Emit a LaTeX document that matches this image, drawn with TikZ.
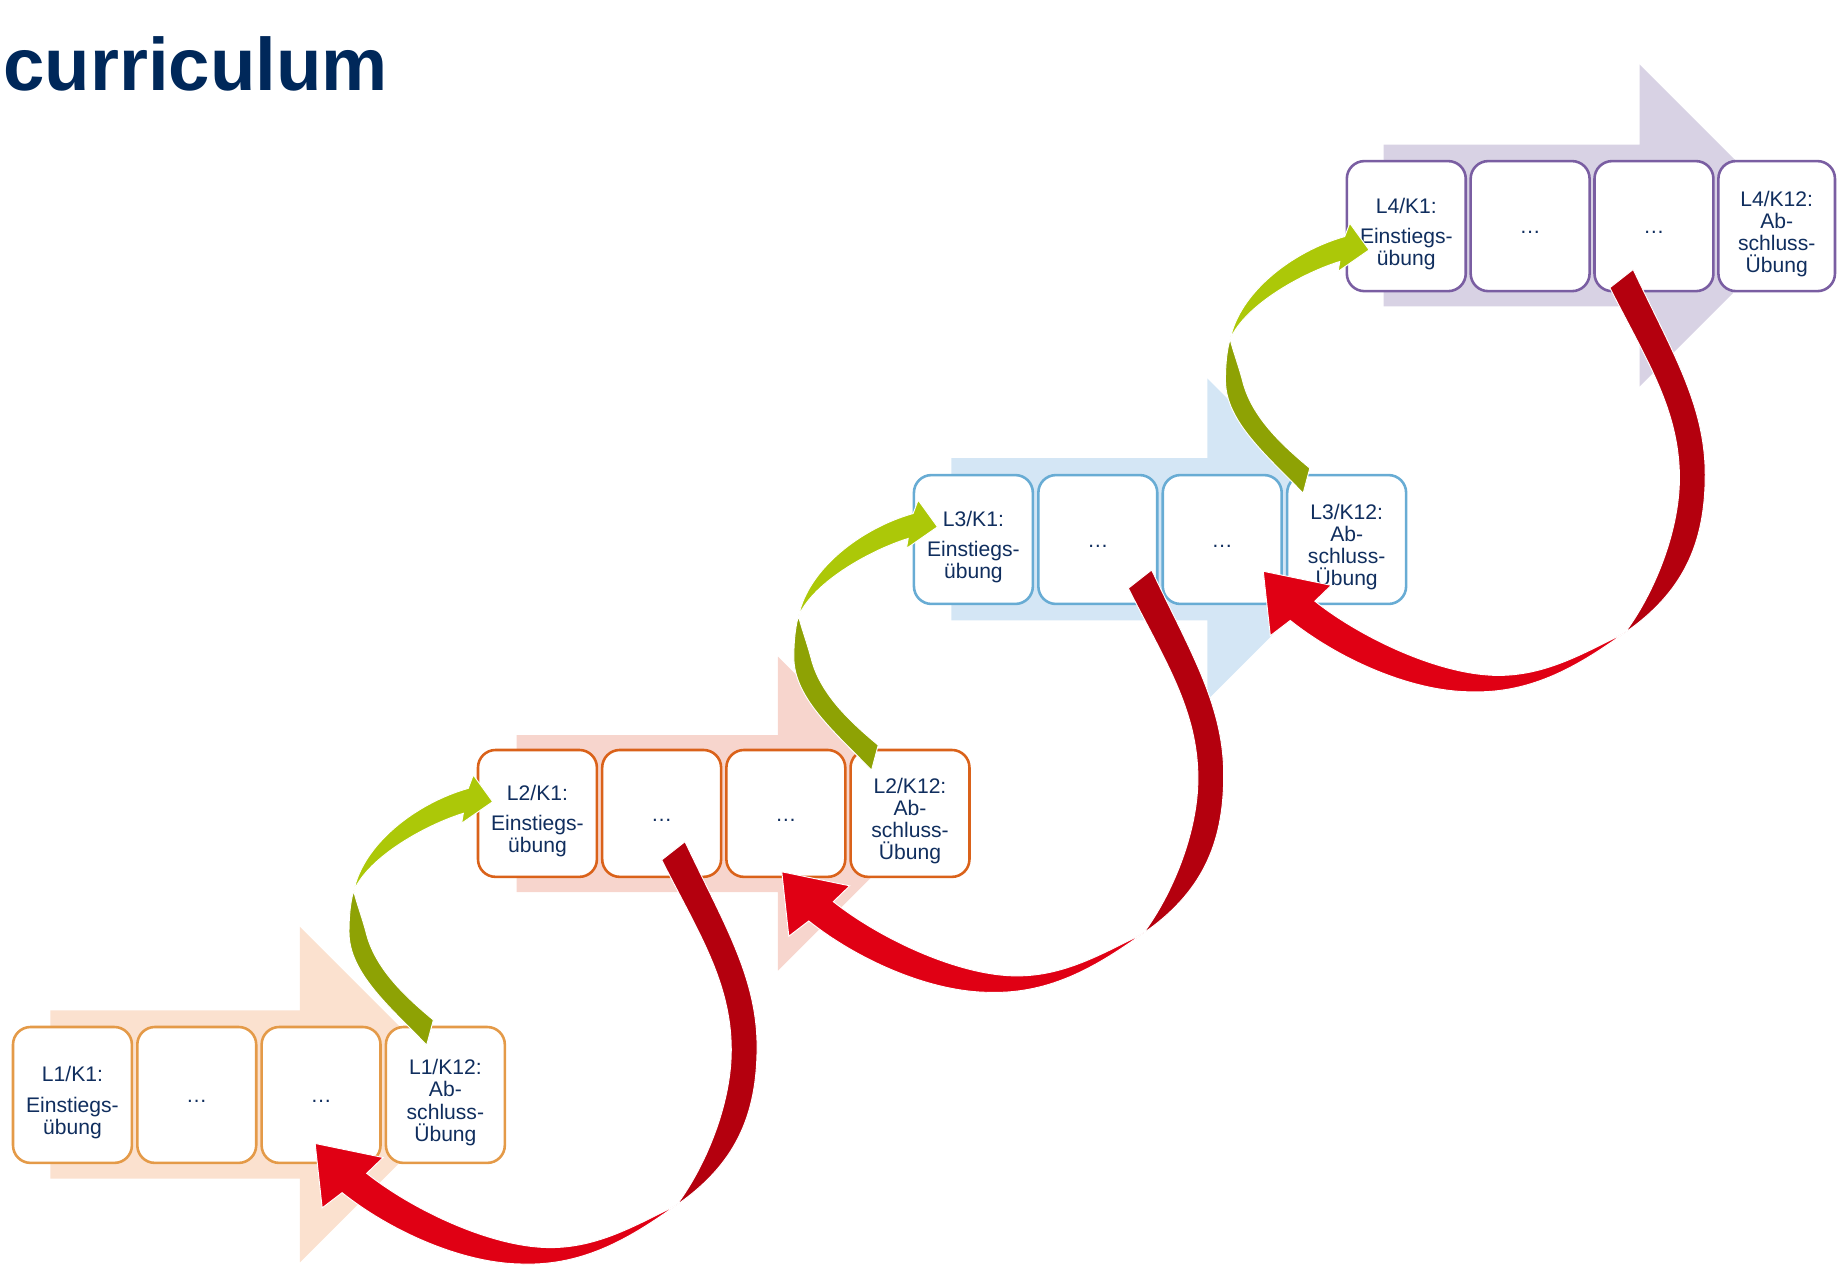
\documentclass[tikz,border=0pt]{standalone}
\usepackage{fontspec}
\setmainfont{Liberation Sans}
\definecolor{navy}{RGB}{0,40,90}
\definecolor{txt}{RGB}{16,46,94}
\definecolor{bgA}{RGB}{251,225,207}
\definecolor{bgB}{RGB}{247,213,205}
\definecolor{bgC}{RGB}{212,230,245}
\definecolor{bgD}{RGB}{216,210,228}
\definecolor{edA}{RGB}{228,154,72}
\definecolor{edB}{RGB}{218,98,26}
\definecolor{edC}{RGB}{104,172,212}
\definecolor{edD}{RGB}{122,94,162}
\definecolor{rdark}{RGB}{180,0,14}
\definecolor{rbright}{RGB}{224,0,20}
\definecolor{gdark}{RGB}{142,162,4}
\definecolor{gbright}{RGB}{172,200,8}
\newcommand{\tl}{\rule{0pt}{26pt}}
\newcommand{\dts}{\rule[-3pt]{0pt}{19pt}…}
\tikzset{
  cbox/.style={draw=#1, line width=2.2pt, fill=white, rounded corners=15pt,
    minimum width=101.5pt, inner sep=0pt, align=center, text=txt,
    font=\fontsize{18}{18.8}\selectfont},
  rim/.style={draw=white, line width=0.8pt},
  redarrow/.pic={
    \fill[rdark, rim] (0,0) .. controls (32,68) and (61.5,115) .. (61.5,175)
      .. controls (61.5,235) and (42.1,275.9) .. (-7.1,310.1)
      .. controls (16.9,278.1) and (39.5,225) .. (39.5,178)
      .. controls (39.5,120) and (11.6,77.9) .. (-19.9,15.6) -- cycle;
    \fill[rbright, rim] (-7.1,310.1) .. controls (-43.1,328.1) and (-75,346.5) .. (-115,346.5)
      .. controls (-165,346.5) and (-232.7,314.1) .. (-271.7,283.1)
      -- (-257.7,269.6) -- (-315.7,257.6) -- (-309.7,312.6) -- (-292.7,299.6)
      .. controls (-249.8,333.7) and (-188,360.5) .. (-138,360.5)
      .. controls (-85,362) and (-45,337) .. (-7.1,310.1) -- cycle;
  },
  greenarrow/.pic={
    \fill[gdark, rim] (-5.7,21.4) .. controls (-36.8,-11) and (-72,-40) .. (-72,-75)
      .. controls (-72,-92) and (-70,-104) .. (-68,-110)
      .. controls (-65.5,-100) and (-61,-88) .. (-57.5,-75)
      .. controls (-50,-44) and (-24,-20) .. (0,0) -- cycle;
    \fill[gbright, rim] (-68,-110) .. controls (-60,-150) and (-15,-185) .. (29.8,-197.7)
      -- (34.1,-209.1) -- (50.6,-186.3) -- (24.1,-167.9) -- (25.6,-176.4)
      .. controls (-5,-167) and (-55,-140) .. (-68,-110) -- cycle;
  }
}
\begin{document}
\begin{tikzpicture}[x=1pt,y=-1pt]
\useasboundingbox (0,0) rectangle (1568,1080);
% title
\node[anchor=base west, inner sep=0pt, text=navy, font=\bfseries\fontsize{63.5}{70}\selectfont] (title) at (2.8,77) {curriculum};
% background arrows
\fill[bgA] (43,862.5) -- (256,862.5) -- (256,791) -- (399.3,934.3) -- (256,1077.5) -- (256,1006) -- (43,1006) -- cycle;
\fill[bgB] (441,627.5) -- (664,627.5) -- (664,560.5) -- (798,694.5) -- (664,828.5) -- (664,761.5) -- (441,761.5) -- cycle;
\fill[bgC] (812,391) -- (1030.5,391) -- (1030.5,323) -- (1167.8,460.3) -- (1030.5,597.5) -- (1030.5,529.5) -- (812,529.5) -- cycle;
\fill[bgD] (1181,123.5) -- (1399.5,123.5) -- (1399.5,55) -- (1537,192.5) -- (1399.5,330) -- (1399.5,261.5) -- (1181,261.5) -- cycle;
% row 1
\node[cbox=edA, minimum height=116pt] (a1) at (61.85,934.6) {\tl L1/K1:\\[7pt]Einstiegs-\\übung};
\node[cbox=edA, minimum height=116pt] (a2) at (167.95,934.6) {\dts};
\node[cbox=edA, minimum height=116pt] (a3) at (274.05,934.6) {\dts};
\node[cbox=edA, minimum height=116pt] (a4) at (380.15,934.6) {\tl L1/K12:\\Ab-\\schluss-\\Übung};
% row 2
\node[cbox=edB, minimum height=108.3pt] (b1) at (458.75,694.3) {\tl L2/K1:\\[7pt]Einstiegs-\\übung};
\node[cbox=edB, minimum height=108.3pt] (b2) at (564.75,694.3) {\dts};
\node[cbox=edB, minimum height=108.3pt] (b3) at (670.75,694.3) {\dts};
\node[cbox=edB, minimum height=108.3pt] (b4) at (776.75,694.3) {\tl L2/K12:\\Ab-\\schluss-\\Übung};
% row 3
\node[cbox=edC, minimum height=110pt] (c1) at (830.85,460.5) {\tl L3/K1:\\[7pt]Einstiegs-\\übung};
\node[cbox=edC, minimum height=110pt] (c2) at (937.05,460.5) {\dts};
\node[cbox=edC, minimum height=110pt] (c3) at (1043.25,460.5) {\dts};
\node[cbox=edC, minimum height=110pt] (c4) at (1149.45,460.5) {\tl L3/K12:\\Ab-\\schluss-\\Übung};
% row 4
\node[cbox=edD, minimum height=111pt] (d1) at (1200.35,193) {\tl L4/K1:\\[7pt]Einstiegs-\\übung};
\node[cbox=edD, minimum height=111pt] (d2) at (1306.05,193) {\dts};
\node[cbox=edD, minimum height=111pt] (d3) at (1411.75,193) {\dts};
\node[cbox=edD, minimum height=111pt, minimum width=99.5pt] (d4) at (1516.5,193) {\tl L4/K12:\\Ab-\\schluss-\\Übung};
% curved arrows
\coordinate (g1) at (369.9,870.6);
\coordinate (g2) at (749.6,636);
\coordinate (g3) at (1118,399.6);
\coordinate (r1) at (584.7,718.4);
\coordinate (r2) at (983,486.5);
\coordinate (r3) at (1394,230);
\pic at (g1) {greenarrow};
\pic at (g2) {greenarrow};
\pic at (g3) {greenarrow};
\pic at (r1) {redarrow};
\pic at (r2) {redarrow};
\pic at (r3) {redarrow};
\end{tikzpicture}
\end{document}
